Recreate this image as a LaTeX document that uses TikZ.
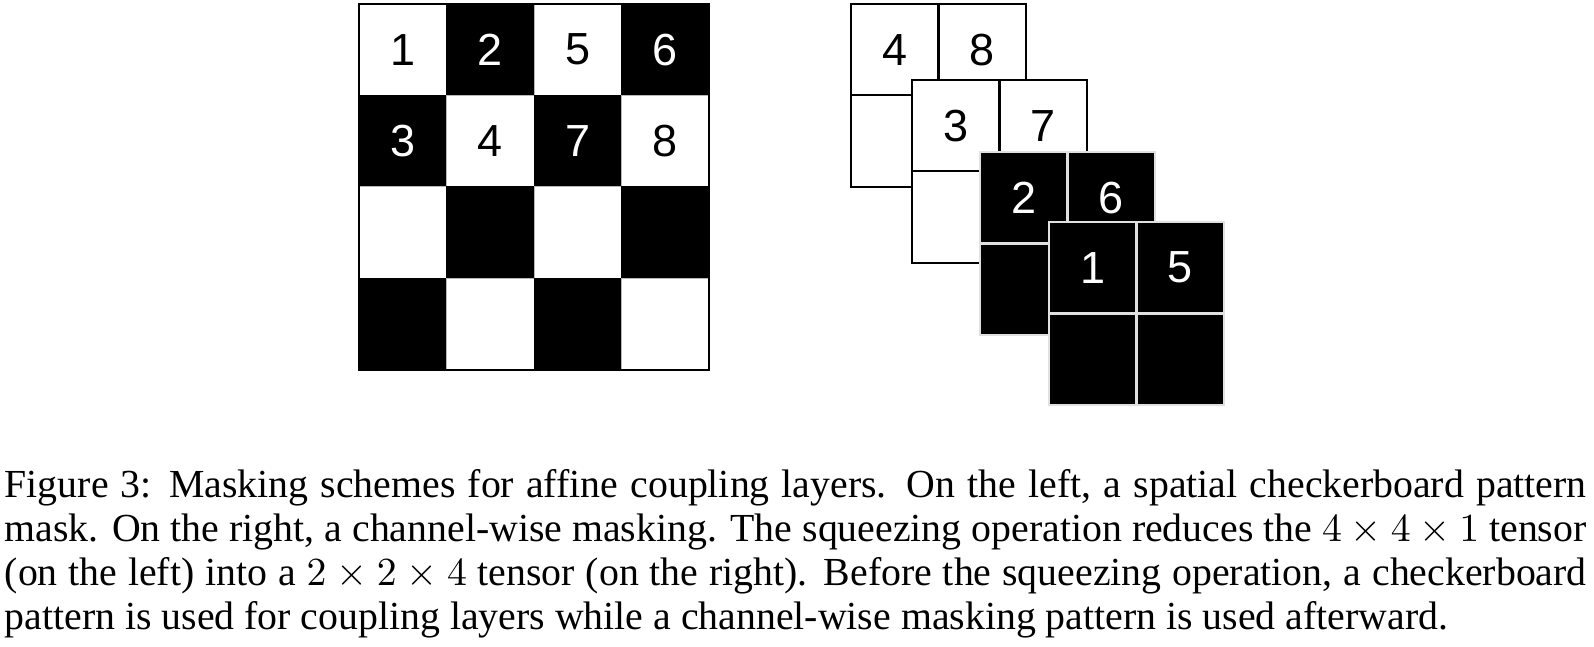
\documentclass[tikz,border=0pt]{standalone}
\usepackage{fontspec}
\setmainfont{Liberation Serif}
\newfontfamily\arialfont{Liberation Sans}
\tikzset{
  cell/.style={rectangle, inner sep=0pt, outer sep=0pt, minimum width=21.99pt, minimum height=22.97pt,
    font=\arialfont\fontsize{11.3}{11.3}\selectfont},
  wcell/.style={cell, fill=white, draw=gray!55, line width=0.25pt, text=black},
  bcell/.style={cell, fill=black, draw=black, line width=0.25pt, text=white},
  lwcell/.style={cell, fill=white, draw=black, line width=0.55pt, text=black},
  lbcell/.style={cell, fill=black, draw=white!88!black, line width=0.65pt, text=white},
  frame/.style={draw=black, line width=0.5pt},
  captext/.style={anchor=north west, inner sep=0pt, text width=397.5pt, align=justify,
    font=\fontsize{10}{11}\selectfont}
}
\begin{document}
\begin{tikzpicture}[x=0.2513pt, y=-0.2513pt]
\useasboundingbox[fill=white] (0,0) rectangle (1594,647);
% left checkerboard
\node[wcell] (g11) at (402.75,49.7) {1};
\node[bcell] (g12) at (490.25,49.7) {2};
\node[wcell] (g13) at (577.75,49.7) {5};
\node[bcell] (g14) at (665.25,49.7) {6};
\node[bcell] (g21) at (402.75,141.1) {3};
\node[wcell] (g22) at (490.25,141.1) {4};
\node[bcell] (g23) at (577.75,141.1) {7};
\node[wcell] (g24) at (665.25,141.1) {8};
\node[wcell] (g31) at (402.75,232.5) {};
\node[bcell] (g32) at (490.25,232.5) {};
\node[wcell] (g33) at (577.75,232.5) {};
\node[bcell] (g34) at (665.25,232.5) {};
\node[bcell] (g41) at (402.75,323.9) {};
\node[wcell] (g42) at (490.25,323.9) {};
\node[bcell] (g43) at (577.75,323.9) {};
\node[wcell] (g44) at (665.25,323.9) {};
\draw[frame] (g11.north west) rectangle (g44.south east);
% layer 1
\node[lwcell] (a11) at (894.75,49.7) {4};
\node[lwcell] (a12) at (982.25,49.7) {8};
\node[lwcell] (a21) at (894.75,141.1) {};
\node[lwcell] (a22) at (982.25,141.1) {};
% layer 2
\node[lwcell] (b11) at (955.75,125.7) {3};
\node[lwcell] (b12) at (1043.25,125.7) {7};
\node[lwcell] (b21) at (955.75,217.1) {};
\node[lwcell] (b22) at (1043.25,217.1) {};
% layer 3
\node[lbcell] (c11) at (1023.75,197.7) {2};
\node[lbcell] (c12) at (1111.25,197.7) {6};
\node[lbcell] (c21) at (1023.75,289.1) {};
\node[lbcell] (c22) at (1111.25,289.1) {};
% layer 4
\node[lbcell] (d11) at (1092.75,267.7) {1};
\node[lbcell] (d12) at (1180.25,267.7) {5};
\node[lbcell] (d21) at (1092.75,359.1) {};
\node[lbcell] (d22) at (1180.25,359.1) {};
% caption
\node[captext] (cap) at (4,469) {\hyphenpenalty=10000 Figure 3: Masking schemes for affine coupling layers. On the left, a spatial checkerboard pattern\linebreak
mask. On the right, a channel-wise masking. The squeezing operation reduces the $4 \times 4 \times 1$ tensor\linebreak
(on the left) into a $2 \times 2 \times 4$ tensor (on the right). Before the squeezing operation, a checkerboard\linebreak
pattern is used for coupling layers while a channel-wise masking pattern is used afterward.};
\end{tikzpicture}
\end{document}
